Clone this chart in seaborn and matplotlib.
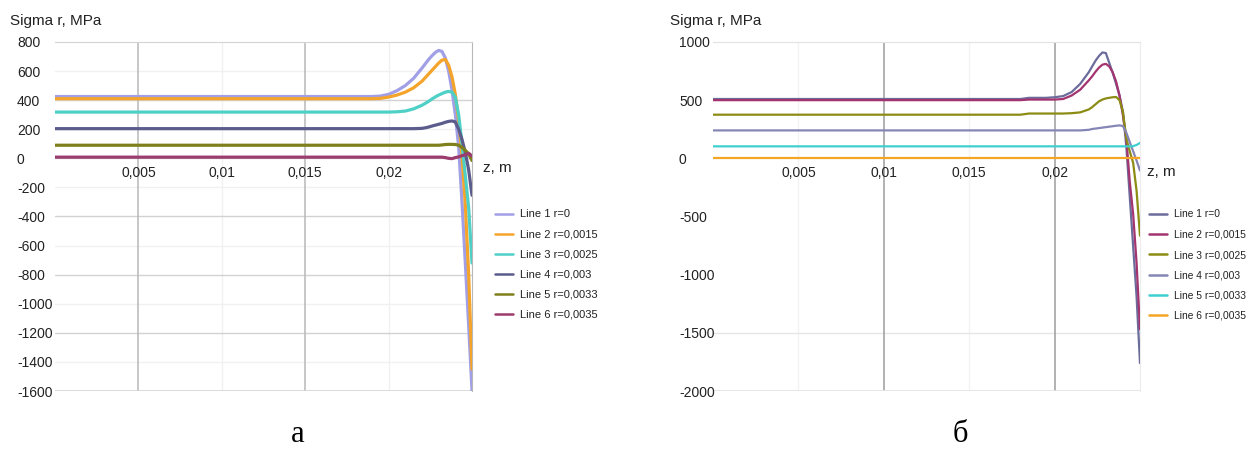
import matplotlib
matplotlib.use("Agg")
import matplotlib.pyplot as plt
from matplotlib.lines import Line2D
import pandas as pd
import seaborn as sns

# Axial coordinate z, m (shared sampling for every curve)
z_m = [0, 0.005, 0.01, 0.015, 0.018, 0.0185, 0.019, 0.0195, 0.02, 0.0205,
       0.021, 0.0215, 0.022, 0.0222, 0.0224, 0.0226, 0.0228, 0.023, 0.0232,
       0.0234, 0.0236, 0.0238, 0.024, 0.0242, 0.0244, 0.0246, 0.0248, 0.025]

line_labels = ["Line 1 r=0", "Line 2 r=0,0015", "Line 3 r=0,0025",
               "Line 4 r=0,003", "Line 5 r=0,0033", "Line 6 r=0,0035"]

# Panel "а": radial stress, MPa
a_line1 = [425, 425, 425, 425, 425, 425, 425, 428, 440, 465, 500, 550, 620, 650,
           680, 705, 728, 742, 735, 690, 600, 470, 300, 80, -300, -720, -1150, -1595]
a_line2 = [410, 410, 410, 410, 410, 410, 410, 412, 421, 435, 455, 485, 530, 555,
           580, 605, 630, 655, 675, 680, 640, 560, 440, 260, 20, -320, -800, -1450]
a_line3 = [318, 318, 318, 318, 318, 318, 318, 318, 318, 320, 325, 340, 365, 378,
           392, 408, 422, 435, 445, 455, 460, 455, 420, 300, 100, -120, -340, -720]
a_line4 = [204, 204, 204, 204, 204, 204, 204, 204, 204, 204, 204, 204, 206, 210,
           215, 222, 228, 234, 240, 248, 254, 257, 250, 200, 130, 40, -80, -254]
a_line5 = [90, 90, 90, 90, 90, 90, 90, 90, 90, 90, 90, 90, 90, 90,
           90, 90, 90, 90, 92, 95, 96, 96, 95, 90, 75, 55, 30, -15]
a_line6 = [8, 8, 8, 8, 8, 8, 8, 8, 8, 8, 8, 8, 8, 8,
           8, 8, 8, 8, 8, 5, 0, -2, 5, 10, 18, 25, 35, 15]

# Panel "б": radial stress, MPa
b_line1 = [510, 510, 510, 510, 510, 520, 520, 520, 525, 535, 570, 640, 740, 790,
           840, 880, 910, 905, 820, 735, 640, 540, 400, 100, -330, -760, -1190, -1760]
b_line2 = [500, 500, 500, 500, 500, 505, 505, 505, 505, 510, 540, 590, 670, 705,
           745, 780, 805, 812, 790, 740, 660, 540, 370, 170, -200, -480, -900, -1470]
b_line3 = [375, 375, 375, 375, 375, 385, 385, 385, 385, 385, 388, 395, 420, 440,
           465, 490, 505, 515, 520, 525, 527, 500, 400, 170, 60, -40, -280, -665]
b_line4 = [240, 240, 240, 240, 240, 240, 240, 240, 240, 240, 240, 240, 245, 252,
           256, 260, 264, 268, 272, 276, 280, 283, 278, 220, 140, 60, -20, -105]
b_line5 = [103, 103, 103, 103, 103, 103, 103, 103, 103, 103, 103, 103, 103, 103,
           103, 103, 103, 103, 103, 103, 103, 103, 103, 103, 103, 105, 115, 132]
b_line6 = [0, 0, 0, 0, 0, 0, 0, 0, 0, 0, 0, 0, 0, 0,
           0, 0, 0, 0, 0, 0, 0, 0, 0, 0, 0, 0, 0, 0]

x_ticks = [0.005, 0.01, 0.015, 0.02]
x_tick_labels = ["0,005", "0,01", "0,015", "0,02"]
a_y_ticks = [800, 600, 400, 200, 0, -200, -400, -600, -800, -1000, -1200, -1400, -1600]
b_y_ticks = [1000, 500, 0, -500, -1000, -1500, -2000]

a_colors = ["#a19fe6", "#f4a42a", "#4fd0c6", "#5b5b8c", "#7f801c", "#9b3b6e"]
b_colors = ["#6c6c9c", "#a33470", "#8c8c14", "#8686b6", "#3fcfd0", "#f5a524"]

sns.set_style("white")
plt.rcParams["font.family"] = ["Liberation Sans", "DejaVu Sans"]
plt.rcParams["axes.unicode_minus"] = False

fig = plt.figure(figsize=(12.5, 4.5), dpi=100)
ax_a = fig.add_axes([0.044, 0.1311, 0.3336, 0.7756])
ax_b = fig.add_axes([0.5704, 0.1311, 0.3416, 0.7756])


def to_frame(series):
    rows = []
    for label, values in zip(line_labels, series):
        for z, v in zip(z_m, values):
            rows.append({"z": z, "sigma": v, "line": label})
    return pd.DataFrame(rows)


def draw_panel(ax, series, colors, ylim, yticks, lw, ylab_pad,
               strong_x, faint_x, strong_y, faint_y, strong_xc, faint_c,
               strong_yc, frame_c, right_c):
    # background grid
    for x in faint_x:
        ax.axvline(x, color=faint_c, lw=1, zorder=0)
    for y in faint_y:
        ax.axhline(y, color=faint_c, lw=1, zorder=0)
    for y in strong_y:
        ax.axhline(y, color=strong_yc, lw=1, zorder=0)
    for x in strong_x:
        ax.axvline(x, color=strong_xc, lw=1.1, zorder=0)

    df = to_frame(series)
    sns.lineplot(data=df, x="z", y="sigma", hue="line", hue_order=line_labels,
                 palette=dict(zip(line_labels, colors)), estimator=None,
                 sort=False, lw=lw, legend=False, ax=ax, zorder=3)

    ax.set_xlim(0, 0.025)
    ax.set_ylim(*ylim)
    ax.set_xlabel("")
    ax.set_ylabel("")

    ax.set_xticks(x_ticks)
    ax.set_xticklabels(x_tick_labels)
    ax.set_yticks(yticks)
    ax.set_yticklabels([str(t) for t in yticks])
    for lab in ax.get_yticklabels():
        lab.set_horizontalalignment("left")
    ax.tick_params(axis="both", length=0, labelsize=10, colors="#222222")
    ax.tick_params(axis="y", pad=ylab_pad)
    ax.tick_params(axis="x", pad=5.3)

    ax.spines["bottom"].set_position(("data", 0))
    ax.spines["bottom"].set_visible(False)
    ax.spines["left"].set_visible(False)
    ax.spines["top"].set_color(frame_c)
    ax.spines["right"].set_color(right_c)
    ax.axhline(ylim[0], color=frame_c, lw=1.2, zorder=0)


draw_panel(ax_a, [a_line1, a_line2, a_line3, a_line4, a_line5, a_line6],
           a_colors, (-1600, 800), a_y_ticks, 2.3, 27.4,
           strong_x=[0.005, 0.015], faint_x=[0.01, 0.02],
           strong_y=[400, 0, -400, -800, -1200],
           faint_y=[600, 200, -200, -600, -1000, -1400],
           strong_xc="#b8b8b8", faint_c="#f1f1f1", strong_yc="#d2d2d2",
           frame_c="#d4d4d4", right_c="#b8b8b8")

draw_panel(ax_b, [b_line1, b_line2, b_line3, b_line4, b_line5, b_line6],
           b_colors, (-2000, 1000), b_y_ticks, 1.6, 24.5,
           strong_x=[0.01, 0.02], faint_x=[0.005, 0.015],
           strong_y=[-1500], faint_y=[],
           strong_xc="#9c9c9c", faint_c="#f3f3f3", strong_yc="#e6e6e6",
           frame_c="#e2e2e2", right_c="#ececec")

# axis captions
for ax, dx, dy in [(ax_a, 11, -10), (ax_b, 7, -14)]:
    ax.annotate("z, m", xy=(1, 0), xycoords=("axes fraction", "data"),
                xytext=(dx, dy), textcoords="offset pixels",
                ha="left", va="center", fontsize=11, color="#222222")

fig.text(10 / 1250, 1 - 20.5 / 450, "Sigma r, MPa", ha="left", va="center",
         fontsize=11, color="#222222")
fig.text(670 / 1250, 1 - 20.5 / 450, "Sigma r, MPa", ha="left", va="center",
         fontsize=11, color="#222222")

# legends
for colors, x0, fs, spacing in [(a_colors, 495, 8, 0.9), (b_colors, 1149, 7.4, 1.0)]:
    handles = [Line2D([0], [0], color=c, lw=1.8) for c in colors]
    fig.legend(handles, line_labels, loc="upper left",
               bbox_to_anchor=(x0 / 1250, 1 - 209.5 / 450),
               bbox_transform=fig.transFigure, frameon=False, fontsize=fs,
               borderpad=0, borderaxespad=0, handlelength=1.65 * 8 / fs,
               handletextpad=0.6, labelspacing=spacing,
               labelcolor="#222222")

# panel letters
for x_px, letter in [(298, "а"), (960, "б")]:
    fig.text(x_px / 1250, 1 - 442 / 450, letter, ha="center", va="baseline",
             fontsize=22, family=["Liberation Serif", "DejaVu Serif"],
             color="black")

fig.savefig("out.png", dpi=100)
